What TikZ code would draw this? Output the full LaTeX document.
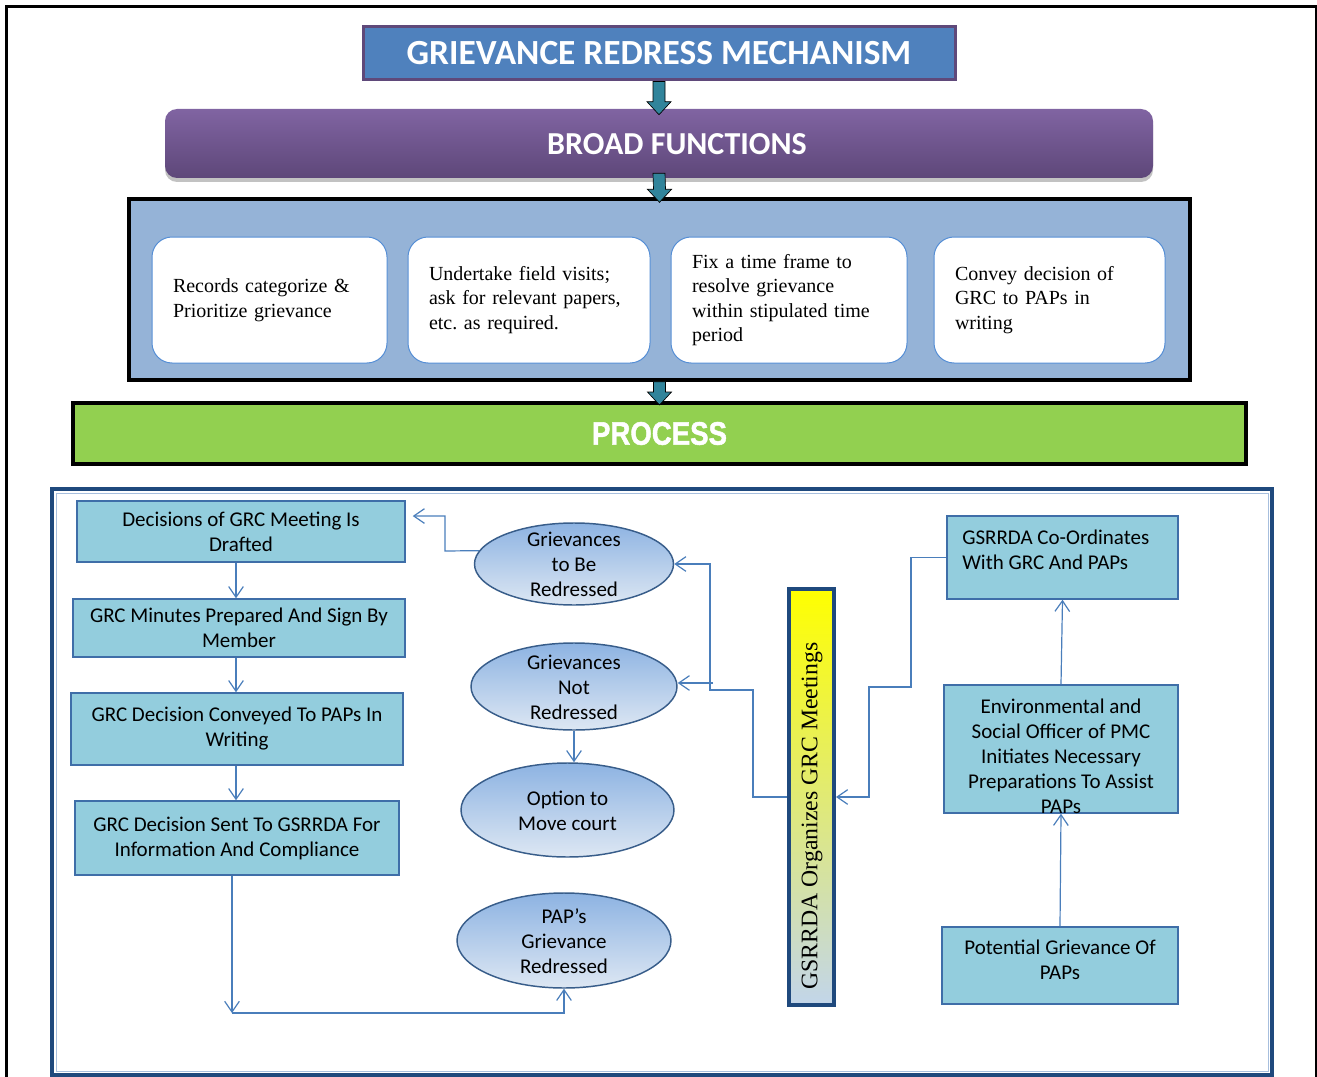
\documentclass[tikz,border=0pt]{standalone}
\usepackage{fontspec}
\setmainfont{Liberation Serif}
\newfontfamily\calibri{Carlito}
\newfontfamily\heavyfont{Liberation Sans}[FakeBold=1.6]
\usetikzlibrary{arrows.meta,calc,shapes.geometric,shadows}

\definecolor{titleblue}{HTML}{4F81BD}
\definecolor{titleedge}{HTML}{5F497A}
\definecolor{arrowteal}{HTML}{31849B}
\definecolor{broadtop}{HTML}{8064A2}
\definecolor{broadbot}{HTML}{5E4779}
\definecolor{panelblue}{HTML}{95B3D7}
\definecolor{wedge}{HTML}{558ED5}
\definecolor{procgreen}{HTML}{92D050}
\definecolor{framecol}{HTML}{1F497D}
\definecolor{framelight}{HTML}{A7BFDE}
\definecolor{boxcyan}{HTML}{93CDDD}
\definecolor{boxedge}{HTML}{3F6EA8}
\definecolor{connblue}{HTML}{4A7EBB}
\definecolor{elltop}{HTML}{8DB3E2}
\definecolor{ellbot}{HTML}{DDE7F3}
\definecolor{elledge}{HTML}{385D8A}
\definecolor{barbot}{HTML}{C2D5EA}

% vertical block arrow from coordinate #1 (tail) to coordinate #2 (tip)
\newcommand{\blockarrow}[2]{%
  \draw[barrow] ($(#1)+(-6,0)$) -- ($(#2)+(-6,-13)$) -- ($(#2)+(-12,-13)$)
    -- (#2) -- ($(#2)+(12,-13)$) -- ($(#2)+(6,-13)$) -- ($(#1)+(6,0)$) -- cycle;}

\begin{document}
\frenchspacing
\begin{tikzpicture}[x=0.75pt,y=-0.75pt,
  barrow/.style={fill=arrowteal,draw=black,line width=0.5pt},
  titlebox/.style={draw=titleedge,line width=2.25pt,fill=titleblue,
    minimum width=444pt,minimum height=39.75pt,inner sep=0pt,text=white,
    font=\calibri\bfseries\fontsize{26.5}{30}\selectfont},
  broadbox/.style={rounded corners=9pt,top color=broadtop,bottom color=broadbot,
    minimum width=741pt,minimum height=51.75pt,inner sep=0pt,
    drop shadow={shadow xshift=0pt,shadow yshift=-3pt,fill=black!40,opacity=0.6}},
  broadtext/.style={inner sep=0pt,text=white,
    font=\calibri\bfseries\fontsize{24}{28}\selectfont},
  panelbox/.style={fill=panelblue,draw=black,line width=2.5pt,
    minimum width=795.75pt,minimum height=135.75pt,inner sep=0pt},
  wbox/.style={fill=white,draw=wedge,line width=0.75pt,rounded corners=15pt,
    minimum height=94.5pt,inner xsep=15.75pt,inner ysep=0pt,align=left,
    font=\fontsize{15}{18.4}\selectfont},
  procbar/.style={fill=procgreen,draw=black,line width=3pt,
    minimum width=879.75pt,minimum height=45.75pt,inner sep=0pt,text=white,
    font=\heavyfont\bfseries\fontsize{23}{26}\selectfont},
  framebox/.style={draw=framecol,line width=3pt,inner sep=0pt},
  pbox/.style={fill=boxcyan,draw=boxedge,line width=1.1pt,inner sep=0pt,
    align=center,font=\calibri\fontsize{15.75}{18.75}\selectfont},
  ptext/.style={inner sep=0pt,align=center,font=\calibri\fontsize{15.75}{18.75}\selectfont},
  ell/.style={ellipse,draw=elledge,line width=1.1pt,top color=elltop,
    bottom color=ellbot,inner sep=0pt},
  barbox/.style={draw=framecol,line width=3pt,top color=yellow,bottom color=barbot,
    minimum width=33.75pt,minimum height=312pt,inner sep=0pt},
  conn/.style={draw=connblue,line width=0.9pt,-{Straight Barb[length=8pt,width=11pt]}}
]
\useasboundingbox (0,0) rectangle (1317,1077);

% page frame
\draw[line width=2.25pt] (6,1077) -- (6,7) -- (1316,7) -- (1316,1077);

% header blocks
\node[titlebox] (title) at (659,53.5) {GRIEVANCE REDRESS MECHANISM};
\node[broadbox] (broad) at (659,143.5) {};
\node[broadtext] (broadt) at (677,144) {BROAD FUNCTIONS};
\node[panelbox] (panel) at (659.5,289.5) {};

\node[wbox,minimum width=176.25pt,text width=144.75pt] (w1) at (269.5,300)
  {Records categorize \&\\Prioritize grievance};
\node[wbox,minimum width=181.5pt,text width=150pt] (w2) at (529,300)
  {Undertake field visits;\\ask for relevant papers,\\etc. as required.};
\node[wbox,minimum width=177pt,text width=145.5pt] (w3) at (789,300)
  {Fix a time frame to\\resolve grievance\\within stipulated time\\period};
\node[wbox,minimum width=173.25pt,text width=141.75pt] (w4) at (1049.5,300)
  {Convey decision of\\GRC to PAPs in\\writing};

\node[procbar] (process) at (659.5,433.5) {\scalebox{0.9}[1.06]{PROCESS}};

% block arrows between header blocks
\coordinate (a1s) at (title.south);
\coordinate (a1e) at ([yshift=-4.5pt]broad.north);
\coordinate (a2s) at ([yshift=3.75pt]broad.south);
\coordinate (a2e) at ([yshift=-3.75pt]panel.north);
\coordinate (a3s) at (panel.south);
\coordinate (a3e) at ([yshift=-3pt]process.north);
\blockarrow{a1s}{a1e}
\blockarrow{a2s}{a2e}
\blockarrow{a3s}{a3e}

% process area
\node[framebox,minimum width=915pt,minimum height=439.5pt] (frame) at (662,782) {};
\node[draw=framelight,line width=0.6pt,inner sep=0pt,
  minimum width=909pt,minimum height=433.5pt] (frameinner) at (662,782) {};

\node[pbox,minimum width=246pt,minimum height=45.75pt] (b1) at (241,531.5)
  {Decisions of GRC Meeting Is\\Drafted};
\node[pbox,minimum width=249pt,minimum height=43.5pt] (b2) at (239,628)
  {GRC Minutes Prepared And Sign By\\Member};
\node[pbox,minimum width=249pt,minimum height=54pt] (b3) at (237,729)
  {GRC Decision Conveyed To PAPs In\\Writing};
\node[pbox,minimum width=243pt,minimum height=55.5pt] (b4) at (237,838)
  {GRC Decision Sent To GSRRDA For\\Information And Compliance};

\node[ell,minimum width=149.25pt,minimum height=61.5pt] (e1) at (574,564) {};
\node[ptext] (e1t) at (574,564) {Grievances\\to Be\\Redressed};
\node[ell,minimum width=154.5pt,minimum height=65.25pt] (e2) at (574,686.5) {};
\node[ptext] (e2t) at (574,687) {Grievances\\Not\\Redressed};
\node[ell,minimum width=159.75pt,minimum height=70.5pt] (e3) at (567.5,810) {};
\node[ptext] (e3t) at (567.5,811) {Option to\\Move court};
\node[ell,minimum width=160.5pt,minimum height=71.25pt] (e4) at (564,940.5) {};
\node[ptext] (e4t) at (564,941) {PAP’s\\Grievance\\Redressed};

\node[barbox] (bar) at (811.5,797) {};
\node[rotate=90,inner sep=0pt,font=\fontsize{17.8}{20}\selectfont] (bart) at (812,816)
  {GSRRDA Organizes GRC Meetings};

\node[pbox,minimum width=173.25pt,minimum height=62.25pt] (r1) at (1062.5,557.5) {};
\node[ptext,anchor=west,align=left] (r1t) at (962,549.5)
  {GSRRDA Co-Ordinates\\With GRC And PAPs};
\node[pbox,minimum width=175.5pt,minimum height=96pt] (r2) at (1061,749) {};
\node[ptext] (r2t) at (1061,756)
  {Environmental and\\Social Officer of PMC\\Initiates Necessary\\Preparations To Assist\\PAPs};
\node[pbox,minimum width=177pt,minimum height=57.75pt] (r3) at (1060,965.5) {};
\node[ptext] (r3t) at (1060,960) {Potential Grievance Of\\PAPs};

% connectors, left column
\coordinate (colL) at (236,0);
\draw[conn] (b1.south -| colL) -- (b2.north -| colL);
\draw[conn] (b2.south -| colL) -- (b3.north -| colL);
\draw[conn] (b3.south -| colL) -- (b4.north -| colL);
\coordinate (lowc) at (232,1013);
\draw[conn] (b4.south -| lowc) -- (lowc);
\draw[conn] (lowc) -| (e4.south);

% connectors, middle column
\coordinate (k1) at (445,551);
\draw[conn] (e1.172) -- (k1) |- ([xshift=5.25pt,yshift=11.6pt]b1.east);
\draw[conn] (e2.south) -- (e2.south |- e3.north);
\coordinate (j1) at (753,690);
\coordinate (j2) at (710,690);
\draw[conn] (bar.west) -| (j1) -- (j2) |- (e1.east);
\coordinate (j3) at (713,683);
\draw[conn] (j3) -- (e2.east |- j3);

% connectors, right column
\coordinate (j4) at (911,687);
\coordinate (j5) at (869,687);
\draw[conn] (r1.west) -| (j4) -- (j5) |- (bar.east);
\draw[conn] (r2.north) -- (r1.south);
\draw[conn] (r3.north) -- (r2.south);
\end{tikzpicture}
\end{document}
